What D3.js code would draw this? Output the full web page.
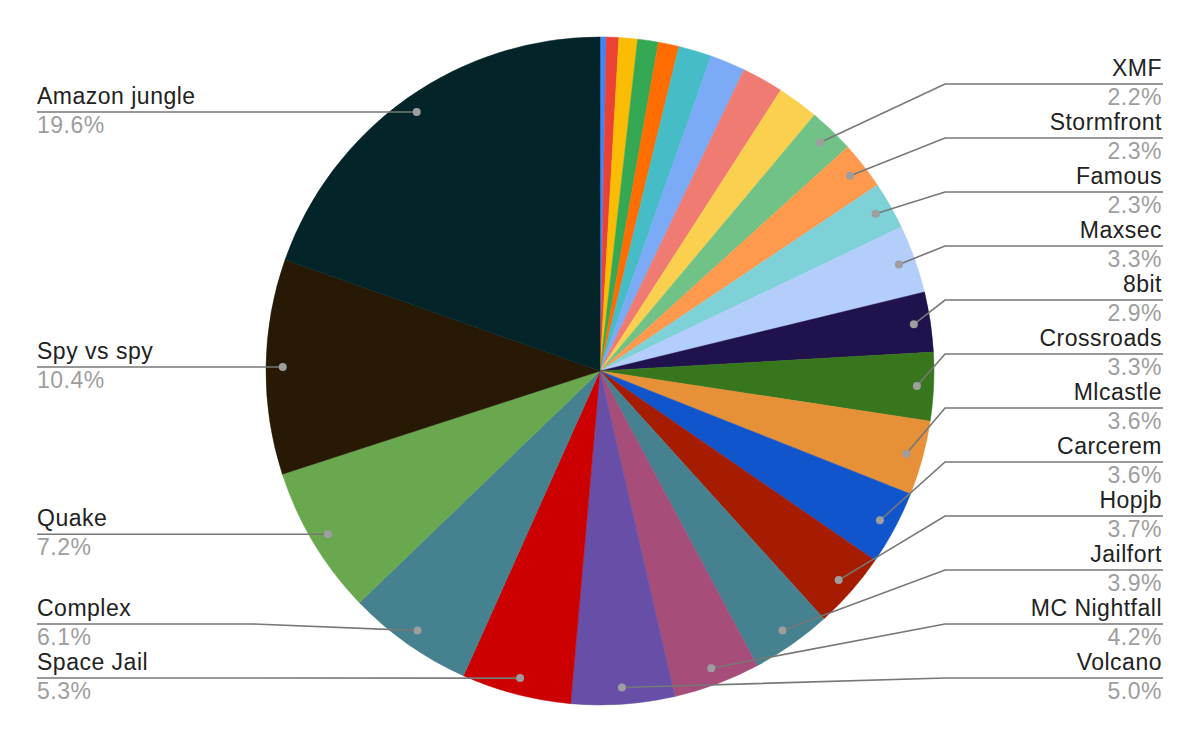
<!DOCTYPE html>
<html>
<head>
<meta charset="utf-8">
<script src="https://cdn.jsdelivr.net/npm/d3@7"></script>
<style>
  html, body { margin: 0; padding: 0; background: #fff; }
  svg { display: block; }
  text { font-family: "Liberation Sans", Arial, sans-serif; }
</style>
</head>
<body>
<svg id="chart" width="1200" height="742"></svg>
<script>
// ---- data (clockwise from 12 o'clock) ----
const categories = [
  "Other 1", "Other 2", "Other 3", "Other 4", "Other 5", "Other 6", "Other 7", "Other 8", "Other 9",
  "XMF", "Stormfront", "Famous", "Maxsec", "8bit", "Crossroads", "Mlcastle", "Carcerem",
  "Hopjb", "Jailfort", "MC Nightfall", "Volcano", "Space Jail", "Complex", "Quake",
  "Spy vs spy", "Amazon jungle"
];
const values = [
  0.3, 0.6, 0.9, 1.0, 1.0, 1.6, 1.7, 2.0, 2.0,
  2.2, 2.3, 2.3, 3.3, 2.9, 3.3, 3.6, 3.6,
  3.7, 3.9, 4.2, 5.0, 5.3, 6.1, 7.2,
  10.4, 19.6
];
const colors = [
  "#4285f4", "#ea4335", "#fbbc04", "#34a853", "#ff6d01", "#46bdc6", "#7baaf7", "#f07b72", "#fcd04f",
  "#71c287", "#ff994d", "#7ed1d7", "#b3cefb", "#20124d", "#38761d", "#e69138", "#1155cc",
  "#a61c00", "#45818e", "#a64d79", "#674ea7", "#cc0000", "#45818e", "#6aa84f",
  "#271904", "#03252a"
];

// ---- layout ----
const W = 1200, H = 742;
const cx = 600, cy = 371, R = 334;
const dotR = R * 0.95;
const labelGap = 54, minLineY = 40, maxLineY = 678;
const rightTextX = 1162, rightElbowX = 945;
const leftTextX = 37, leftElbowX = 253;
const minLabelPct = 2.1;
const fontSize = 23, letterSp = 0.5;

const data = categories.map((c, i) => ({ name: c, value: values[i], color: colors[i] }));
const total = d3.sum(values);

const svg = d3.select("#chart");
const g = svg.append("g").attr("transform", `translate(${cx},${cy})`);

const pie = d3.pie().sort(null).value(d => d.value);
const arcs = pie(data);
const arc = d3.arc().innerRadius(0).outerRadius(R);

g.selectAll("path.slice")
  .data(arcs)
  .enter().append("path")
  .attr("class", "slice")
  .attr("d", arc)
  .attr("fill", d => d.data.color)
  .attr("stroke", d => d.data.color)
  .attr("stroke-width", 0.5);

// ---- labels ----
const fmt = d3.format(".1f");
const labels = arcs
  .filter(a => a.data.value / total * 100 >= minLabelPct)
  .map(a => {
    const mid = (a.startAngle + a.endAngle) / 2;
    const px = cx + dotR * Math.sin(mid);
    const py = cy - dotR * Math.cos(mid);
    return {
      name: a.data.name,
      pct: fmt(a.data.value / total * 100) + "%",
      side: mid < Math.PI ? "right" : "left",
      px, py, y: py
    };
  });

function spread(list) {
  list.sort((a, b) => a.py - b.py);
  for (let i = 0; i < list.length; i++) {
    list[i].y = Math.max(list[i].py, minLineY);
    if (i > 0) list[i].y = Math.max(list[i].y, list[i - 1].y + labelGap);
  }
  for (let i = list.length - 1; i >= 0; i--) {
    if (i === list.length - 1) list[i].y = Math.min(list[i].y, maxLineY);
    else list[i].y = Math.min(list[i].y, list[i + 1].y - labelGap);
  }
}
const rightL = labels.filter(l => l.side === "right");
const leftL = labels.filter(l => l.side === "left");
spread(rightL);
spread(leftL);

const lg = svg.append("g");
const line = d3.line();

[...rightL, ...leftL].forEach(l => {
  const right = l.side === "right";
  const textX = right ? rightTextX : leftTextX;
  const elbowX = right ? rightElbowX : leftElbowX;
  const endX = right ? rightTextX + 1 : leftTextX;
  lg.append("path")
    .attr("d", line([[endX, l.y], [elbowX, l.y], [l.px, l.py]]))
    .attr("fill", "none")
    .attr("stroke", "#777777")
    .attr("stroke-width", 1.6);
  lg.append("circle")
    .attr("cx", l.px).attr("cy", l.py).attr("r", 4)
    .attr("fill", "#9e9e9e");
  lg.append("text")
    .attr("x", textX).attr("y", l.y - 8)
    .attr("text-anchor", right ? "end" : "start")
    .attr("font-size", fontSize)
    .attr("letter-spacing", letterSp)
    .attr("fill", "#222222")
    .text(l.name);
  lg.append("text")
    .attr("x", textX).attr("y", l.y + 21)
    .attr("text-anchor", right ? "end" : "start")
    .attr("font-size", fontSize)
    .attr("letter-spacing", letterSp)
    .attr("fill", "#9e9e9e")
    .text(l.pct);
});
</script>
</body>
</html>
